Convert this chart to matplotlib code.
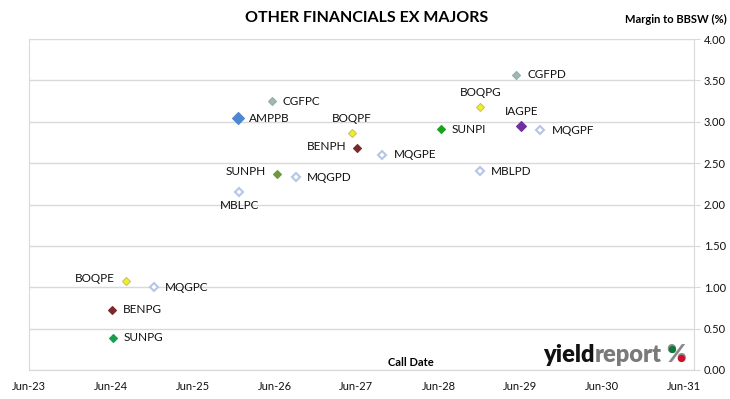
import matplotlib.pyplot as plt
import matplotlib.dates as mdates
import pandas as pd

FONT = 'Lato'

codes = ['AMPPB', 'CGFPC', 'BOQPF', 'BENPH', 'SUNPH', 'MQGPD', 'MBLPC', 'MQGPE',
         'CGFPD', 'BOQPG', 'IAGPE', 'SUNPI', 'MQGPF', 'MBLPD',
         'BOQPE', 'MQGPC', 'BENPG', 'SUNPG']
call_dates = ['2025-12-20', '2026-05-20', '2027-05-10', '2027-06-05', '2026-06-10',
              '2026-09-05', '2025-12-25', '2027-09-25',
              '2029-05-15', '2028-12-05', '2029-06-05', '2028-06-10', '2029-08-30',
              '2028-12-01',
              '2024-08-05', '2024-12-10', '2024-06-05', '2024-06-10']
margins = [3.04, 3.25, 2.87, 2.68, 2.37, 2.33, 2.15, 2.60,
           3.57, 3.18, 2.95, 2.91, 2.90, 2.40,
           1.08, 1.00, 0.73, 0.39]
# label side: r = right, l = left, a = above, b = below
label_side = ['r', 'r', 'a', 'l', 'l', 'r', 'b', 'r',
              'r', 'a', 'a', 'r', 'r', 'r',
              'l', 'r', 'r', 'r']
x_ticks = ['2023-06-01', '2024-06-01', '2025-06-01', '2026-06-01', '2027-06-01',
           '2028-06-01', '2029-06-01', '2030-06-01', '2031-06-01']

# marker styles per issuer: (face, edge, size, hollow)
styles = {
    'AMP': ('#4f86d0', '#4f86d0', 6, False),
    'CGF': ('#a3bb9a', '#8fa9c8', 4.5, False),
    'BOQ': ('#f2ef1c', '#c8c46a', 4.5, False),
    'BEN': ('#7a2a2a', '#7a2a2a', 4.5, False),
    'SUN': ('#2ca02c', '#2ca02c', 4.5, False),
    'IAG': ('#7030a0', '#7030a0', 5, False),
    'MQG': ('white', '#b7c6e6', 4, True),
    'MBL': ('white', '#b7c6e6', 4, True),
}
sun_colors = {'SUNPH': '#6a9a3c', 'SUNPI': '#1aa31a', 'SUNPG': '#14a050'}

dates = pd.to_datetime(call_dates)

fig = plt.figure(figsize=(7.30, 3.99), dpi=100)
ax = fig.add_axes([29 / 730, 29 / 399, 665 / 730, 331 / 399])

for code, d, m, side in zip(codes, dates, margins, label_side):
    face, edge, size, hollow = styles[code[:3]]
    if code in sun_colors:
        face = edge = sun_colors[code]
    ax.plot([d], [m], marker='D', markersize=size, markerfacecolor=face,
            markeredgecolor=edge, markeredgewidth=1.5 if hollow else 0.8,
            linestyle='none', zorder=3)
    offs = {'r': ((11, 0), 'left', 'center'), 'l': ((-11, 2), 'right', 'center'),
            'a': ((0, 14), 'center', 'center'), 'b': ((0, -13), 'center', 'center')}
    (dx, dy), ha, va = offs[side]
    ax.annotate(code, (d, m), xytext=(dx, dy), textcoords='offset pixels',
                ha=ha, va=va, fontsize=8.5, family=FONT, color='#111111')

# Excel puts the last tick a little short of the plot edge
ax.set_xlim(pd.Timestamp(x_ticks[0]), pd.Timestamp(x_ticks[-1]) + pd.Timedelta(days=45))
ax.set_ylim(0, 4)
ax.set_xticks(pd.to_datetime(x_ticks))
ax.xaxis.set_major_formatter(mdates.DateFormatter('%b-%y'))
ax.set_yticks([i * 0.5 for i in range(9)])
ax.yaxis.set_major_formatter(plt.FuncFormatter(lambda v, p: f'{v:.2f}'))
ax.yaxis.tick_right()
ax.grid(axis='y', color='#d9d9d9', linewidth=1)
ax.set_axisbelow(True)
ax.spines['top'].set_visible(False)
for s in ['left', 'right', 'bottom']:
    ax.spines[s].set_color('#d9d9d9')
ax.tick_params(axis='x', length=0, pad=8, labelsize=8, labelcolor='#111111')
ax.tick_params(axis='y', length=4, color='#d9d9d9', pad=3, labelsize=8,
               labelcolor='#111111')
for lab in ax.get_xticklabels() + ax.get_yticklabels():
    lab.set_family(FONT)

fig.text(367 / 730, 1 - 18 / 399, 'OTHER FINANCIALS EX MAJORS', ha='center',
         va='center', fontsize=11.5, fontweight='bold', family=FONT)
fig.text(727 / 730, 1 - 19 / 399, 'Margin to BBSW (%)', ha='right', va='center',
         fontsize=8, fontweight='bold', family=FONT)
fig.text(411 / 730, 1 - 363 / 399, 'Call Date', ha='center', va='center',
         fontsize=8, fontweight='bold', family=FONT)

# logo
fig.canvas.draw()
r = fig.canvas.get_renderer()
W, H = fig.bbox.width, fig.bbox.height
x0 = 543 / 730
yb = 1 - 362 / 399
logo_size = 17
for part, col, gap in [('yield', '#111111', 0), ('report', '#7a7a7a', 0),
                       ('%', '#8a8a8a', 5)]:
    t = fig.text(x0 + gap / W, yb, part, ha='left', va='baseline', fontsize=logo_size,
                 fontweight='heavy', family=FONT, color=col)
    bb = t.get_window_extent(r)
    if part == '%':
        pct_x0, pct_w = bb.x0, bb.width
    x0 = bb.x1 / W

# colour the two rings of the % sign
cap = 0.72 * logo_size * 100 / 72
base = yb * H
for fxp, fyp, c in [(0.27, 0.76, '#0a7a3a'), (0.72, 0.22, '#d0102a')]:
    fig.lines.append(plt.Line2D([(pct_x0 + fxp * pct_w) / W], [(base + fyp * cap) / H],
                                transform=fig.transFigure, marker='o', markersize=4.2,
                                color=c, linestyle='none', zorder=10))

fig.savefig('out.png', dpi=100)
